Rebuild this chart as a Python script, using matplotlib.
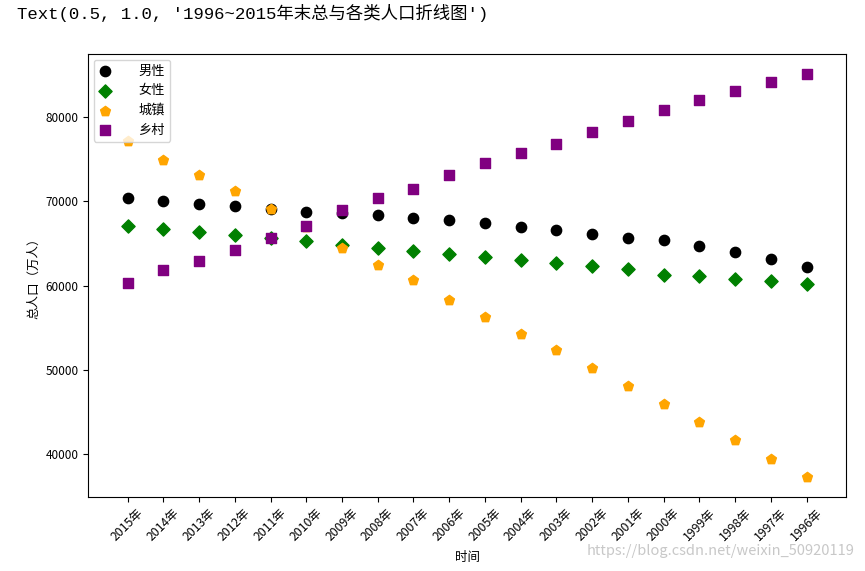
import matplotlib
matplotlib.use("Agg")
import matplotlib.pyplot as plt

plt.rcParams['font.family'] = ['Noto Sans CJK SC', 'DejaVu Sans']
plt.rcParams['axes.unicode_minus'] = False

years = ['2015年', '2014年', '2013年', '2012年', '2011年', '2010年', '2009年',
         '2008年', '2007年', '2006年', '2005年', '2004年', '2003年', '2002年',
         '2001年', '2000年', '1999年', '1998年', '1997年', '1996年']
male = [70414, 70079, 69728, 69395, 69068, 68748, 68647, 68357, 68048, 67728,
        67375, 66976, 66556, 66115, 65672, 65437, 64692, 63940, 63131, 62200]
female = [67048, 66703, 66344, 66009, 65667, 65343, 64803, 64445, 64081, 63720,
          63381, 63012, 62671, 62338, 61955, 61306, 61094, 60821, 60495, 60189]
urban = [77116, 74916, 73111, 71182, 69079, 66978, 64512, 62403, 60633, 58288,
         56212, 54283, 52376, 50212, 48064, 45906, 43748, 41608, 39449, 37304]
rural = [60346, 61866, 62961, 64222, 65656, 67113, 68938, 70399, 71496, 73160,
         74544, 75705, 76851, 78241, 79563, 80837, 82038, 83153, 84177, 85085]

fig = plt.figure(figsize=(8.65, 5.71), dpi=100)
ax = fig.add_axes([0.102, 0.130, 0.876, 0.775])

ax.scatter(years, male, c='black', marker='o', s=55, label='男性')
ax.scatter(years, female, c='green', marker='D', s=45, label='女性')
ax.scatter(years, urban, c='orange', marker='p', s=55, label='城镇')
ax.scatter(years, rural, c='purple', marker='s', s=55, label='乡村')

ax.set_xlim(-1.1, 20.1)
ax.set_xlabel('时间', fontsize=9, labelpad=5)
ax.set_ylabel('总人口（万人）', fontsize=9)
ax.tick_params(axis='y', labelsize=8.5)
ax.tick_params(axis='x', labelsize=8.8)
plt.setp(ax.get_xticklabels(), rotation=45)
ax.legend(loc='upper left', fontsize=9.5, handlelength=1.0, handletextpad=2.0,
          labelspacing=0.5, borderaxespad=0.4)

fig.text(0.02, 0.978, "Text(0.5, 1.0, '1996~2015年末总与各类人口折线图')",
         family=['Liberation Mono', 'Noto Sans CJK SC'], fontsize=12.5,
         va='center', ha='left')
fig.text(0.988, 0.035, 'https://blog.csdn.net/weixin_50920119', color='#c8c8c8',
         fontsize=10.5, ha='right', va='center')

fig.savefig('out.png', dpi=100)
